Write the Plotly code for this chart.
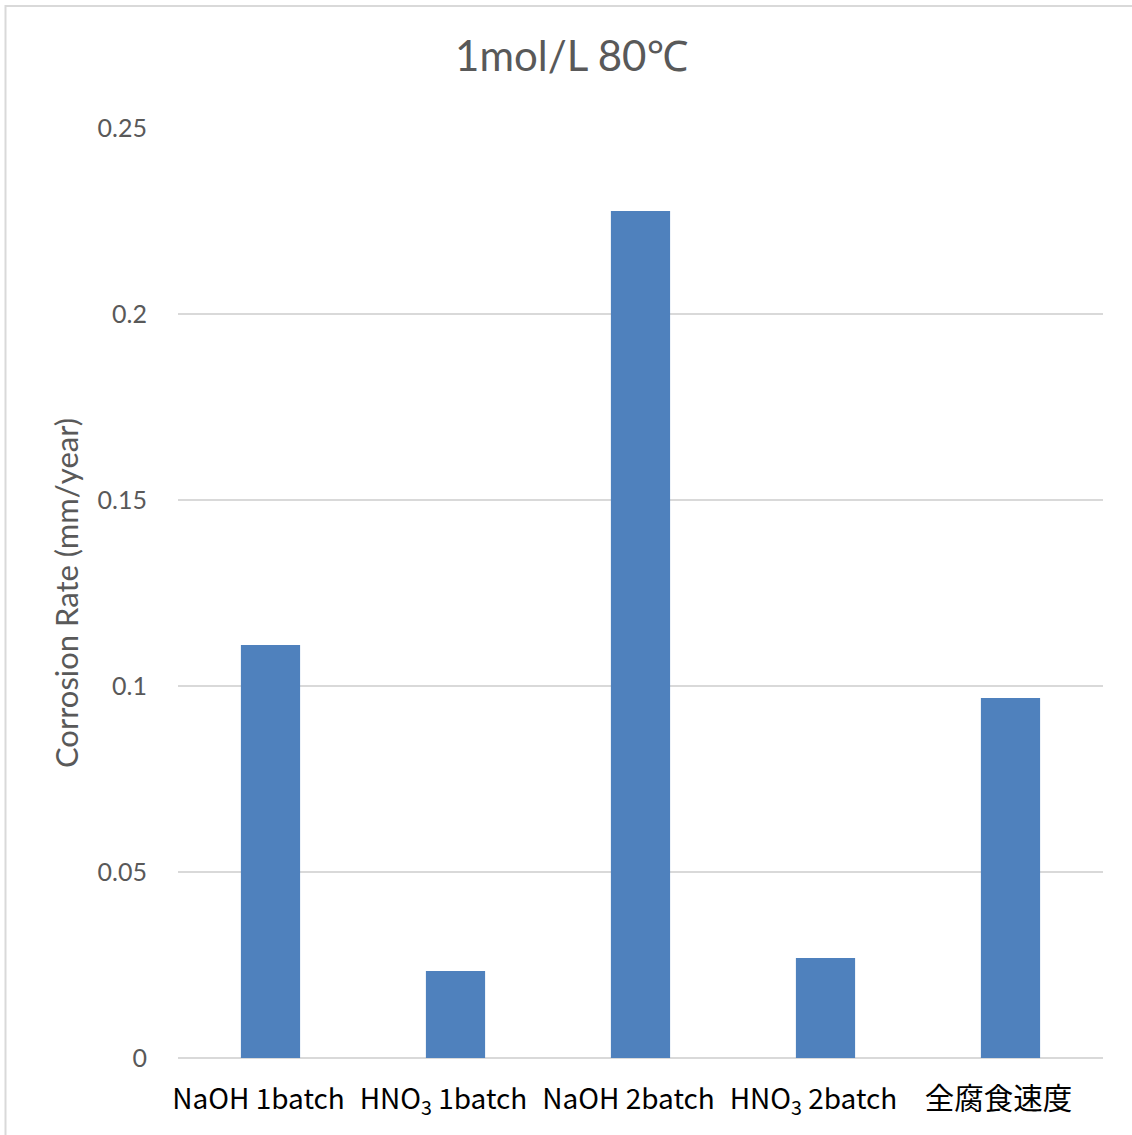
import plotly.graph_objects as go

# Corrosion rate per test condition, 1 mol/L at 80 °C
categories = [
    "NaOH 1batch",
    "HNO<sub>3</sub> 1batch",
    "NaOH 2batch",
    "HNO<sub>3</sub> 2batch",
    "<span style='font-size:29.5px'>全腐食速度</span>",
]
corrosion_rate = [0.111, 0.0234, 0.2277, 0.0269, 0.0968]
y_ticks = [0, 0.05, 0.1, 0.15, 0.2, 0.25]
y_tick_labels = ["0", "0.05", "0.1", "0.15", "0.2", "0.25"]

W, H = 1132, 1135
ML, MR, MT, MB = 178, 29, 128, 77
plot_w = W - ML - MR
plot_h = H - MT - MB

fig = go.Figure(
    go.Bar(
        x=categories,
        y=corrosion_rate,
        marker=dict(color="#4f81bd", line=dict(width=0)),
    )
)

fig.update_layout(
    width=W,
    height=H,
    margin=dict(l=ML, r=MR, t=MT, b=MB),
    paper_bgcolor="white",
    plot_bgcolor="white",
    bargap=0.68,
    showlegend=False,
    title=dict(
        text="1mol/L 80℃",
        x=0.505,
        xref="container",
        xanchor="center",
        y=1 - 56 / H,
        yref="container",
        yanchor="middle",
        font=dict(family="Lato, Noto Sans", size=42, color="#595959"),
    ),
    font=dict(family="Lato, Noto Sans", color="#595959"),
)

fig.update_yaxes(
    range=[0, 0.25],
    tickvals=y_ticks,
    ticktext=y_tick_labels,
    tickfont=dict(family="Lato, Noto Sans", size=25, color="#595959"),
    ticklabelstandoff=30,
    showgrid=True,
    gridcolor="#d9d9d9",
    gridwidth=2,
    zeroline=True,
    zerolinecolor="#d9d9d9",
    zerolinewidth=2,
    showline=False,
    title=dict(
        text="Corrosion Rate (mm/year)",
        font=dict(family="Lato, Noto Sans", size=31, color="#595959"),
        standoff=9,
    ),
)

fig.update_xaxes(
    tickfont=dict(family="Noto Sans CJK JP", size=28, color="#000000"),
    ticklabelstandoff=22,
    ticklabelshift=-12,
    showline=False,
    showgrid=False,
)

# Light chart-area frame around the figure
x0 = (5.5 - ML) / plot_w
y1 = (H - MB - 6) / plot_h
fig.add_shape(
    type="rect",
    xref="paper",
    yref="paper",
    x0=x0,
    x1=(W + 20 - ML) / plot_w,
    y0=-(MB + 20) / plot_h,
    y1=y1,
    line=dict(color="#d9d9d9", width=2),
    fillcolor="rgba(0,0,0,0)",
    layer="below",
)

fig.write_html("out.html")
